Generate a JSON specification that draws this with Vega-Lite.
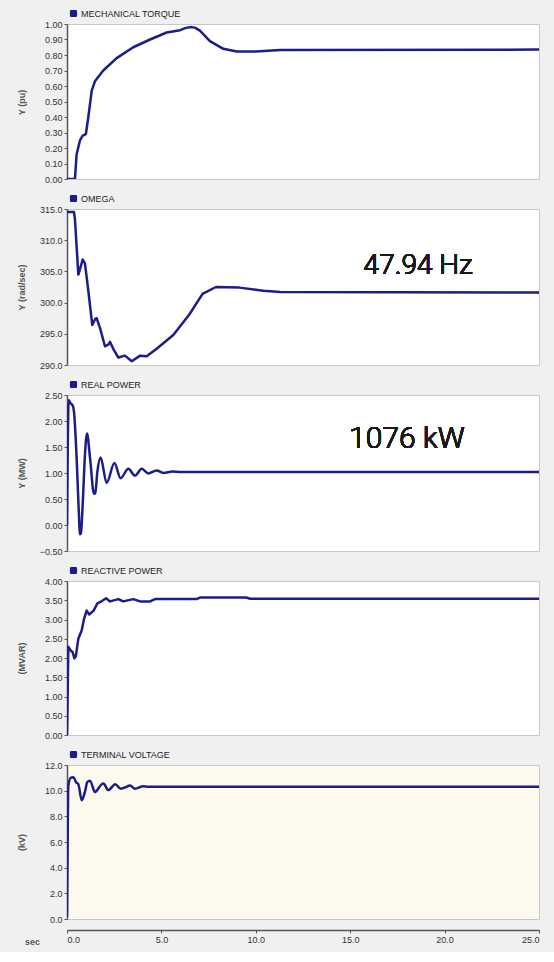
{
  "$schema": "https://vega.github.io/schema/vega-lite/v6.json",
  "padding": {"left": 16, "top": 8, "right": 15, "bottom": 5},
  "background": "#f0f0f0",
  "bounds": "flush",
  "spacing": 30,
  "datasets": {
    "torque": [
      {"t": 0, "v": 0}, {"t": 0.42, "v": 0}, {"t": 0.51, "v": 0.16}, {"t": 0.69, "v": 0.25}, {"t": 0.83, "v": 0.28}, {"t": 1.0, "v": 0.29}, {"t": 1.13, "v": 0.4}, {"t": 1.31, "v": 0.57}, {"t": 1.48, "v": 0.63}, {"t": 1.92, "v": 0.7}, {"t": 2.63, "v": 0.78}, {"t": 3.51, "v": 0.85}, {"t": 4.4, "v": 0.9}, {"t": 5.28, "v": 0.945}, {"t": 5.99, "v": 0.96}, {"t": 6.3, "v": 0.975}, {"t": 6.6, "v": 0.98}, {"t": 6.8, "v": 0.975}, {"t": 7.04, "v": 0.957}, {"t": 7.57, "v": 0.89}, {"t": 8.28, "v": 0.84}, {"t": 8.99, "v": 0.823}, {"t": 10.0, "v": 0.823}, {"t": 11.3, "v": 0.832}, {"t": 25, "v": 0.835}
    ],
    "omega": [
      {"t": 0, "v": 314.5}, {"t": 0.37, "v": 314.5}, {"t": 0.42, "v": 313.4}, {"t": 0.6, "v": 304.5}, {"t": 0.7, "v": 305.5}, {"t": 0.83, "v": 306.9}, {"t": 0.95, "v": 306.3}, {"t": 1.13, "v": 301.9}, {"t": 1.34, "v": 296.4}, {"t": 1.5, "v": 297.4}, {"t": 1.57, "v": 297.5}, {"t": 1.75, "v": 295.9}, {"t": 2.01, "v": 293.0}, {"t": 2.2, "v": 293.3}, {"t": 2.28, "v": 293.7}, {"t": 2.45, "v": 292.6}, {"t": 2.72, "v": 291.2}, {"t": 3.07, "v": 291.5}, {"t": 3.43, "v": 290.6}, {"t": 3.87, "v": 291.5}, {"t": 4.22, "v": 291.4}, {"t": 4.75, "v": 292.6}, {"t": 5.63, "v": 294.8}, {"t": 6.48, "v": 298.1}, {"t": 7.18, "v": 301.4}, {"t": 7.89, "v": 302.5}, {"t": 9.13, "v": 302.4}, {"t": 10.4, "v": 301.9}, {"t": 11.3, "v": 301.7}, {"t": 25, "v": 301.6}
    ],
    "power": [
      {"t": 0, "v": 0.0}, {"t": 0.02, "v": 0.78}, {"t": 0.09, "v": 2.4}, {"t": 0.19, "v": 2.34}, {"t": 0.3, "v": 2.3}, {"t": 0.37, "v": 2.18}, {"t": 0.51, "v": 1.29}, {"t": 0.62, "v": 0.3}, {"t": 0.69, "v": -0.18}, {"t": 0.74, "v": -0.15}, {"t": 0.83, "v": 0.39}, {"t": 0.95, "v": 1.35}, {"t": 1.06, "v": 1.76}, {"t": 1.22, "v": 1.29}, {"t": 1.43, "v": 0.6}, {"t": 1.5, "v": 0.62}, {"t": 1.61, "v": 1.03}, {"t": 1.78, "v": 1.3}, {"t": 2.1, "v": 0.81}, {"t": 2.51, "v": 1.19}, {"t": 2.84, "v": 0.9}, {"t": 3.25, "v": 1.08}, {"t": 3.6, "v": 0.95}, {"t": 3.96, "v": 1.08}, {"t": 4.31, "v": 0.99}, {"t": 4.75, "v": 1.05}, {"t": 5.1, "v": 1.0}, {"t": 5.6, "v": 1.03}, {"t": 6.0, "v": 1.02}, {"t": 25, "v": 1.02}
    ],
    "reactive": [
      {"t": 0, "v": 0.0}, {"t": 0.02, "v": 0.53}, {"t": 0.07, "v": 2.29}, {"t": 0.19, "v": 2.2}, {"t": 0.3, "v": 2.15}, {"t": 0.39, "v": 1.99}, {"t": 0.47, "v": 2.05}, {"t": 0.6, "v": 2.5}, {"t": 0.78, "v": 2.72}, {"t": 0.9, "v": 3.01}, {"t": 1.04, "v": 3.23}, {"t": 1.18, "v": 3.13}, {"t": 1.41, "v": 3.23}, {"t": 1.61, "v": 3.42}, {"t": 1.85, "v": 3.48}, {"t": 2.07, "v": 3.55}, {"t": 2.28, "v": 3.47}, {"t": 2.72, "v": 3.53}, {"t": 2.98, "v": 3.47}, {"t": 3.51, "v": 3.53}, {"t": 3.87, "v": 3.47}, {"t": 4.4, "v": 3.47}, {"t": 4.66, "v": 3.53}, {"t": 6.86, "v": 3.53}, {"t": 7.04, "v": 3.57}, {"t": 9.5, "v": 3.57}, {"t": 9.7, "v": 3.54}, {"t": 25, "v": 3.54}
    ],
    "voltage": [
      {"t": 0, "v": 0.2}, {"t": 0.02, "v": 3.6}, {"t": 0.07, "v": 10.36}, {"t": 0.19, "v": 11.0}, {"t": 0.34, "v": 11.05}, {"t": 0.48, "v": 10.66}, {"t": 0.6, "v": 10.5}, {"t": 0.78, "v": 9.25}, {"t": 0.95, "v": 9.9}, {"t": 1.08, "v": 10.68}, {"t": 1.22, "v": 10.78}, {"t": 1.48, "v": 9.9}, {"t": 1.84, "v": 10.5}, {"t": 1.93, "v": 10.55}, {"t": 2.19, "v": 10.05}, {"t": 2.56, "v": 10.5}, {"t": 2.84, "v": 10.15}, {"t": 3.07, "v": 10.25}, {"t": 3.34, "v": 10.4}, {"t": 3.6, "v": 10.15}, {"t": 4.05, "v": 10.35}, {"t": 4.3, "v": 10.3}, {"t": 25, "v": 10.3}
    ]
  },
  "resolve": {"scale": {"x": "independent", "y": "independent", "color": "independent"}, "legend": {"color": "independent"}, "axis": {"x": "independent", "y": "independent"}},
  "vconcat": [
    {
      "width": 472, "height": 155,
      "data": {"name": "torque"},
      "mark": {"type": "line", "clip": true},
      "encoding": {
        "x": {"field": "t", "type": "quantitative", "scale": {"domain": [0, 25], "nice": false}, "axis": null},
        "y": {"field": "v", "type": "quantitative", "scale": {"domain": [0, 1], "nice": false, "zero": false}, "axis": {"title": "Y (pu)", "values": [0, 0.1, 0.2, 0.3, 0.4, 0.5, 0.6, 0.7, 0.8, 0.9, 1.0], "format": ".2f", "titleY": 78}},
        "color": {"datum": "MECHANICAL TORQUE", "scale": {"range": ["#1c1c8a"]}, "legend": {"orient": "none", "legendX": 2, "legendY": -15}}
      }
    },
    {
      "width": 472, "height": 156,
      "data": {"name": "omega"},
      "layer": [
        {
          "mark": {"type": "line", "clip": true},
          "encoding": {
            "x": {"field": "t", "type": "quantitative", "scale": {"domain": [0, 25], "nice": false}, "axis": null},
            "y": {"field": "v", "type": "quantitative", "scale": {"domain": [290, 315], "nice": false, "zero": false}, "axis": {"title": "Y (rad/sec)", "values": [290, 295, 300, 305, 310, 315], "format": ".1f", "titleY": 78, "labelOverlap": false}},
            "color": {"datum": "OMEGA", "scale": {"range": ["#1c1c8a"]}, "legend": {"orient": "none", "legendX": 2, "legendY": -15}}
          }
        },
        {
          "mark": {"type": "text", "font": "Roboto", "fontSize": 28, "fontWeight": 300, "color": "#1a1a1a", "align": "center", "baseline": "middle"},
          "encoding": {
            "x": {"datum": 18.6, "type": "quantitative", "axis": null},
            "y": {"datum": 305.9, "type": "quantitative", "axis": {"title": "Y (rad/sec)", "values": [290, 295, 300, 305, 310, 315], "format": ".1f", "titleY": 78, "labelOverlap": false}},
            "text": {"value": "47.94 Hz"}
          }
        }
      ]
    },
    {
      "width": 472, "height": 156,
      "data": {"name": "power"},
      "layer": [
        {
          "mark": {"type": "line", "clip": true, "interpolate": "monotone"},
          "encoding": {
            "x": {"field": "t", "type": "quantitative", "scale": {"domain": [0, 25], "nice": false}, "axis": null},
            "y": {"field": "v", "type": "quantitative", "scale": {"domain": [-0.5, 2.5], "nice": false, "zero": false}, "axis": {"title": "Y (MW)", "values": [-0.5, 0, 0.5, 1.0, 1.5, 2.0, 2.5], "format": ".2f", "titleY": 78, "labelOverlap": false}},
            "color": {"datum": "REAL POWER", "scale": {"range": ["#1c1c8a"]}, "legend": {"orient": "none", "legendX": 2, "legendY": -15}}
          }
        },
        {
          "mark": {"type": "text", "font": "Roboto", "fontSize": 30, "fontWeight": 300, "color": "#1a1a1a", "align": "center", "baseline": "middle"},
          "encoding": {
            "x": {"datum": 18.0, "type": "quantitative", "axis": null},
            "y": {"datum": 1.66, "type": "quantitative", "axis": {"title": "Y (MW)", "values": [-0.5, 0, 0.5, 1.0, 1.5, 2.0, 2.5], "format": ".2f", "titleY": 78, "labelOverlap": false}},
            "text": {"value": "1076 kW"}
          }
        }
      ]
    },
    {
      "width": 472, "height": 154,
      "data": {"name": "reactive"},
      "mark": {"type": "line", "clip": true},
      "encoding": {
        "x": {"field": "t", "type": "quantitative", "scale": {"domain": [0, 25], "nice": false}, "axis": null},
        "y": {"field": "v", "type": "quantitative", "scale": {"domain": [0, 4], "nice": false, "zero": false}, "axis": {"title": "(MVAR)", "values": [0, 0.5, 1.0, 1.5, 2.0, 2.5, 3.0, 3.5, 4.0], "format": ".2f", "titleY": 77}},
        "color": {"datum": "REACTIVE POWER", "scale": {"range": ["#1c1c8a"]}, "legend": {"orient": "none", "legendX": 2, "legendY": -15}}
      }
    },
    {
      "width": 472, "height": 154,
      "data": {"name": "voltage"},
      "view": {"fill": "#fef9ee"},
      "mark": {"type": "line", "clip": true, "interpolate": "monotone"},
      "encoding": {
        "x": {"field": "t", "type": "quantitative", "scale": {"domain": [0, 25], "nice": false}, "axis": {"title": "sec", "values": [0, 5, 10, 15, 20, 25], "format": ".1f", "offset": 11, "titleX": -35, "titleY": 11, "titleAlign": "center", "titleBaseline": "middle", "titleAngle": 0, "labelPadding": 2}},
        "y": {"field": "v", "type": "quantitative", "scale": {"domain": [0, 12], "nice": false, "zero": false}, "axis": {"title": "(kV)", "values": [0, 2, 4, 6, 8, 10, 12], "format": ".1f", "titleY": 77}},
        "color": {"datum": "TERMINAL VOLTAGE", "scale": {"range": ["#1c1c8a"]}, "legend": {"orient": "none", "legendX": 2, "legendY": -15}}
      }
    }
  ],
  "config": {
    "view": {"fill": "#ffffff", "stroke": "#c8c8c8", "strokeWidth": 1},
    "line": {"strokeWidth": 2.5, "strokeJoin": "round", "strokeCap": "butt"},
    "axis": {
      "grid": false, "labelOverlap": false, "labelBound": false,
      "labelFont": "Liberation Sans", "labelFontSize": 9, "labelColor": "#333333",
      "titleFont": "Liberation Sans", "titleFontSize": 9, "titleFontWeight": "bold", "titleColor": "#555555",
      "domainColor": "#555555", "tickColor": "#555555", "tickSize": 3, "domainWidth": 1.5
    },
    "axisY": {"titleX": -46, "titleAngle": 270, "titleAlign": "center", "titleBaseline": "middle", "labelPadding": 2},
    "legend": {
      "title": null, "direction": "horizontal", "padding": 0,
      "symbolType": "square", "symbolSize": 22, "symbolFillColor": "#1c1c8a", "symbolStrokeWidth": 0,
      "labelFont": "Liberation Sans", "labelFontSize": 9, "labelColor": "#222222", "labelOffset": 3
    }
  }
}
